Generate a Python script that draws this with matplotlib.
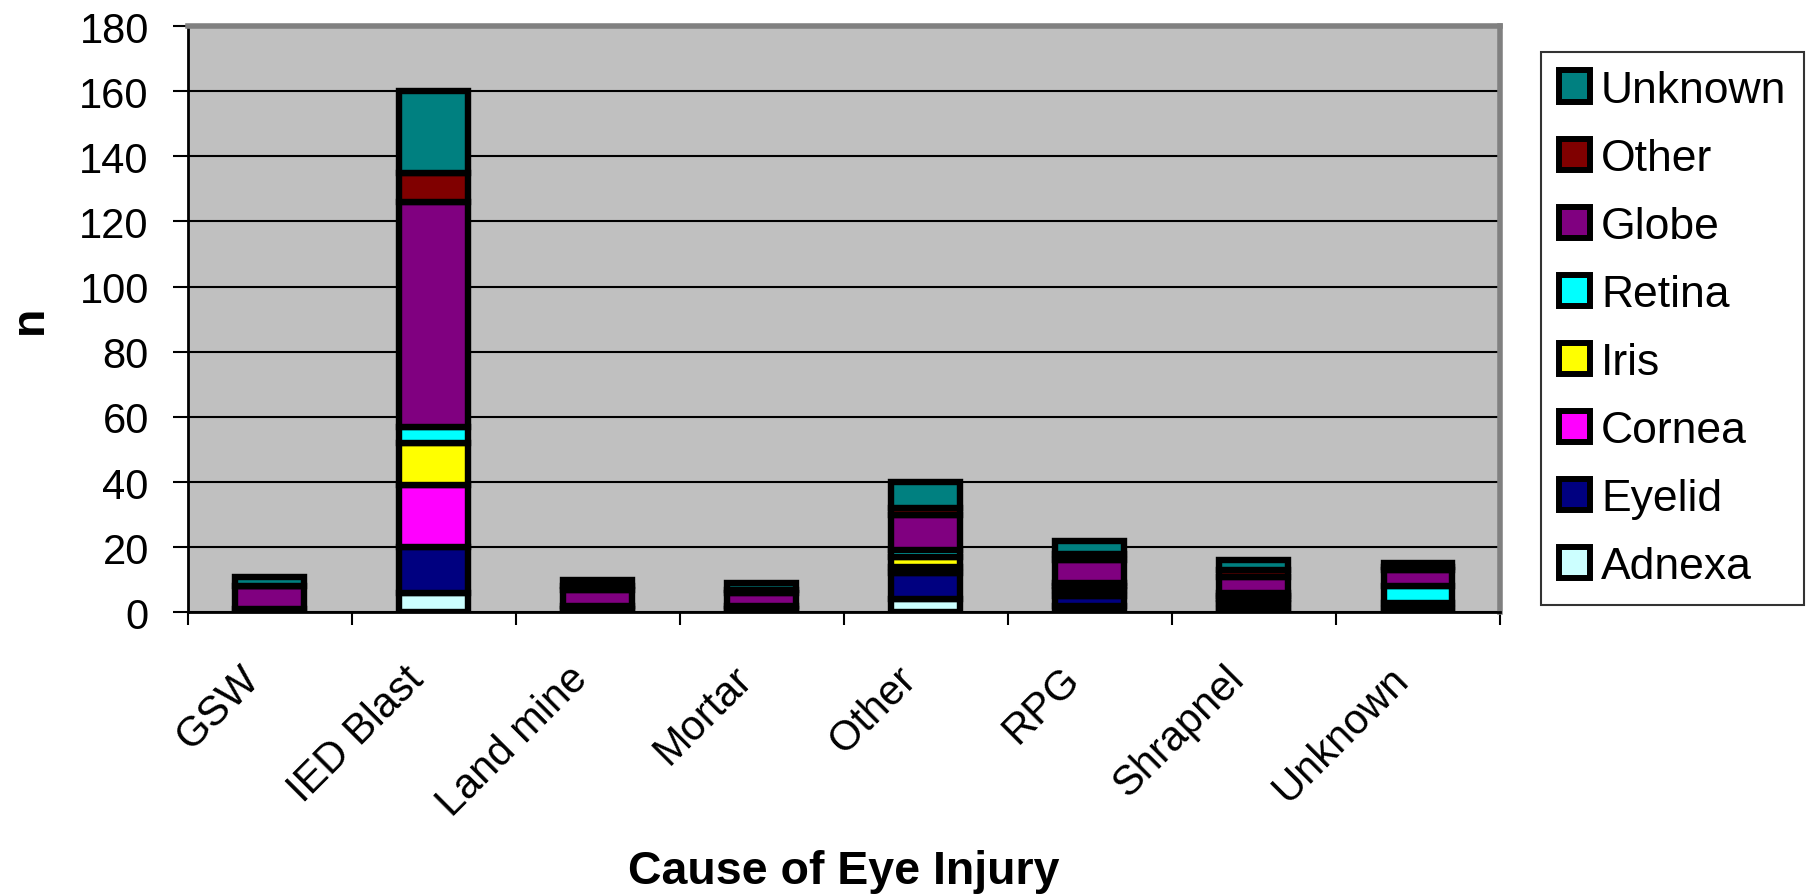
import numpy as np
import matplotlib
matplotlib.use("Agg")
import matplotlib.pyplot as plt
from matplotlib.patches import Patch
from matplotlib.transforms import ScaledTranslation

plt.rcParams['font.family'] = ['Liberation Sans', 'DejaVu Sans']

# data (counts per injury type)
categories = ['GSW', 'IED Blast', 'Land mine', 'Mortar', 'Other', 'RPG', 'Shrapnel', 'Unknown']
adnexa  = [0,  6, 1, 1,  4, 2, 1, 1]
eyelid  = [1, 14, 1, 1,  8, 3, 2, 2]
cornea  = [0, 19, 0, 0,  2, 2, 1, 0]
iris    = [0, 13, 0, 0,  3, 1, 1, 0]
retina  = [0,  5, 0, 0,  2, 1, 1, 5]
globe   = [7, 69, 5, 4, 11, 7, 5, 5]
other   = [0,  9, 1, 1,  2, 2, 2, 1]
unknown = [3, 25, 2, 2,  8, 4, 3, 1]

series_names = ['Adnexa', 'Eyelid', 'Cornea', 'Iris', 'Retina', 'Globe', 'Other', 'Unknown']
series = [adnexa, eyelid, cornea, iris, retina, globe, other, unknown]
colors = ['#CCFFFF', '#000080', '#FF00FF', '#FFFF00', '#00FFFF', '#800080', '#800000', '#008080']

fig = plt.figure(figsize=(18.12, 8.95), dpi=100)
ax = fig.add_axes([0.1036, 0.3147, 0.7242, 0.6551])
ax.set_facecolor('#C0C0C0')

x = np.arange(len(categories))
bottom = np.zeros(len(categories))
handles = []
for name, vals, c in zip(series_names, series, colors):
    vals = np.array(vals, dtype=float)
    ax.bar(x, vals, width=0.42, bottom=bottom, color=c, edgecolor='black',
           linewidth=4.6, zorder=3)
    bottom += vals
    handles.append(Patch(facecolor=c, edgecolor='black', linewidth=4.3, label=name))

ax.set_xlim(-0.5, len(categories) - 0.5)
ax.set_ylim(0, 180)
ax.set_yticks(np.arange(0, 181, 20))
ax.yaxis.grid(True, color='black', linewidth=1.5, zorder=0)
ax.set_axisbelow(True)

ax.set_xticks(x)
ax.set_xticks(np.arange(-0.5, len(categories), 1), minor=True)
ax.tick_params(axis='x', which='major', length=0, pad=33, labelsize=30)
ax.tick_params(axis='x', which='minor', length=9, width=1.5, direction='out')
ax.tick_params(axis='y', length=11, width=1.5, labelsize=30, pad=17)
ax.set_xticklabels(categories, rotation=45, ha='right', va='top', rotation_mode='anchor')
for lbl in ax.get_xticklabels():
    lbl.set_transform(lbl.get_transform() + ScaledTranslation(-0.30, 0, fig.dpi_scale_trans))

for s in ['left', 'bottom']:
    ax.spines[s].set_color('black')
    ax.spines[s].set_linewidth(2)
for s in ['top', 'right']:
    ax.spines[s].set_color('#808080')
    ax.spines[s].set_linewidth(4)

ax.set_ylabel('n', fontsize=33.5, fontweight='bold', labelpad=20)
ax.set_xlabel('Cause of Eye Injury', fontsize=33.5, fontweight='bold', labelpad=18)

leg = fig.legend(handles=handles[::-1], loc='upper left', bbox_to_anchor=(0.8505, 0.941),
                 fontsize=32, frameon=True, fancybox=False, edgecolor='black',
                 handlelength=0.7, handleheight=0.7, handletextpad=0.25,
                 labelspacing=0.61, borderpad=0.4, borderaxespad=0)
leg.get_frame().set_linewidth(1.5)

fig.savefig('out.png', dpi=100)
